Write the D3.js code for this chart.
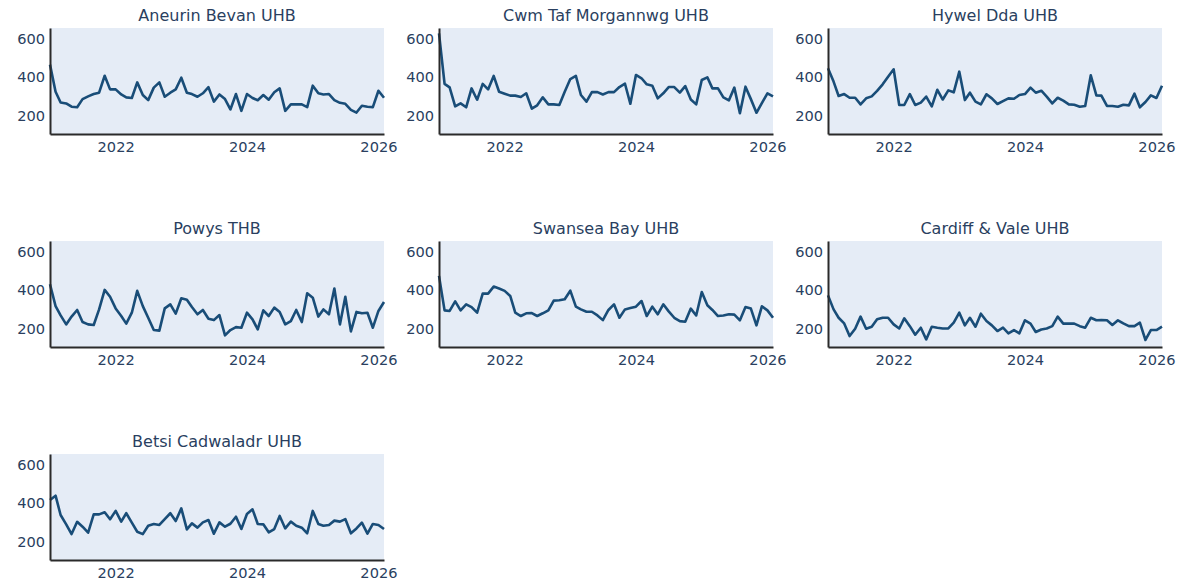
<!DOCTYPE html>
<html>
<head>
<meta charset="utf-8">
<script src="https://cdn.jsdelivr.net/npm/d3@7"></script>
<style>
  html, body { margin: 0; padding: 0; background: #ffffff; }
  svg { display: block; }
  text { font-family: "DejaVu Sans", Verdana, sans-serif; fill: #2a3f5f; }
</style>
</head>
<body>
<svg id="chart" width="1180" height="584"></svg>
<script>
// ---- data ----
const boards = ["Aneurin Bevan UHB", "Cwm Taf Morgannwg UHB", "Hywel Dda UHB",
                "Powys THB", "Swansea Bay UHB", "Cardiff & Vale UHB", "Betsi Cadwaladr UHB"];
const startMonth = "2021-01-01";
const endMonth = "2026-02-01";
const yTicks = [200, 400, 600];
const xTicks = ["2022-01-01", "2024-01-01", "2026-01-01"];
const yDomain = [109, 653];

const aneurinBevan = [465,326,271,266,249,246,288,302,314,321,408,338,338,312,297,294,374,309,283,347,374,300,321,338,398,321,314,300,318,349,275,312,288,235,314,228,314,294,282,309,285,323,343,228,261,261,261,247,357,318,312,314,283,269,264,233,219,254,249,247,331,295];
const cwmTaf = [625,366,348,251,266,246,343,285,366,338,407,326,316,306,306,299,318,239,256,297,261,261,258,326,391,407,309,275,324,324,312,324,324,350,367,264,412,395,364,357,292,318,350,350,321,355,286,261,386,400,343,343,297,282,347,216,352,288,218,268,318,302];
const hywelDda = [446,378,304,314,295,295,261,292,302,330,364,403,441,258,258,314,258,270,301,251,336,286,333,323,429,283,321,275,261,313,292,263,278,292,290,309,314,347,321,331,301,266,295,280,261,259,249,253,410,307,306,253,253,249,259,256,316,246,273,307,294,357];
const powys = [431,319,271,225,265,299,237,225,222,302,402,367,307,268,229,285,397,319,259,196,193,307,328,280,359,352,314,277,299,254,247,273,169,196,211,208,285,251,199,297,268,311,289,225,242,299,237,385,362,265,302,277,409,225,367,189,289,282,285,208,294,340];
const swanseaBay = [474,297,294,343,297,328,314,285,383,383,419,409,397,371,285,268,282,283,268,282,297,347,349,354,398,316,302,290,290,271,247,299,328,259,302,309,316,345,268,316,277,328,292,259,242,239,306,271,391,323,299,268,271,277,275,246,314,306,220,318,297,259];
const cardiffVale = [374,302,259,230,165,203,265,203,213,251,259,259,225,204,256,216,172,208,148,213,208,204,204,234,285,220,259,213,280,242,220,191,208,179,196,179,246,229,186,199,204,216,265,229,229,229,216,208,259,246,247,246,222,246,230,216,216,234,145,196,196,213];
const betsiCadwaladr = [417,439,340,292,242,305,280,249,343,343,354,318,361,306,349,301,254,242,285,294,289,319,349,309,374,266,297,275,302,314,244,302,280,295,331,268,345,369,294,292,251,268,335,271,306,285,275,246,361,294,285,289,311,306,319,246,271,301,244,294,289,268];

const seriesList = [aneurinBevan, cwmTaf, hywelDda, powys, swanseaBay, cardiffVale, betsiCadwaladr];

// ---- layout ----
const parse = d3.timeParse("%Y-%m-%d");
const months = d3.timeMonth.range(parse(startMonth), d3.timeMonth.offset(parse(endMonth), 1));
const panelW = 334, panelH = 106;
const colX = [50, 439, 828];
const rowY = [28, 241, 454];
const fontFam = '"DejaVu Sans", Verdana, sans-serif';

const svg = d3.select("#chart");
const x = d3.scaleTime().domain([parse(startMonth), parse(endMonth)]).range([0, panelW]);
const y = d3.scaleLinear().domain(yDomain).range([panelH, 0]);

boards.forEach((name, i) => {
  const g = svg.append("g")
    .attr("transform", `translate(${colX[i % 3]},${rowY[Math.floor(i / 3)]})`);

  g.append("rect").attr("width", panelW).attr("height", panelH).attr("fill", "#e5ecf6");

  const data = seriesList[i].map((v, k) => ({ date: months[k], value: v }));
  const line = d3.line().x(d => x(d.date)).y(d => y(d.value));
  g.append("path").datum(data)
    .attr("d", line)
    .attr("fill", "none")
    .attr("stroke", "#194d78")
    .attr("stroke-width", 2.6)
    .attr("stroke-linejoin", "round");

  // y axis
  const yAxis = d3.axisLeft(y).tickValues(yTicks).tickSize(0).tickPadding(5);
  const ya = g.append("g").call(yAxis);
  ya.select(".domain").attr("stroke", "#2a2a2a").attr("stroke-width", 2);
  ya.selectAll("text").style("font-size", "14.6px").attr("fill", "#2a3f5f")
    .style("font-family", fontFam);

  // x axis
  const xAxis = d3.axisBottom(x).tickValues(xTicks.map(parse)).tickFormat(d3.timeFormat("%Y"))
    .tickSize(0).tickPadding(8);
  const xa = g.append("g").attr("transform", `translate(0,${panelH})`).call(xAxis);
  xa.select(".domain").attr("stroke", "#2a2a2a").attr("stroke-width", 2);
  xa.selectAll("text").style("font-size", "14.6px").attr("fill", "#2a3f5f")
    .style("font-family", fontFam);

  g.append("text")
    .attr("x", panelW / 2).attr("y", -7)
    .attr("text-anchor", "middle")
    .style("font-size", "16px")
    .style("font-family", fontFam)
    .text(name);
});
</script>
</body>
</html>
